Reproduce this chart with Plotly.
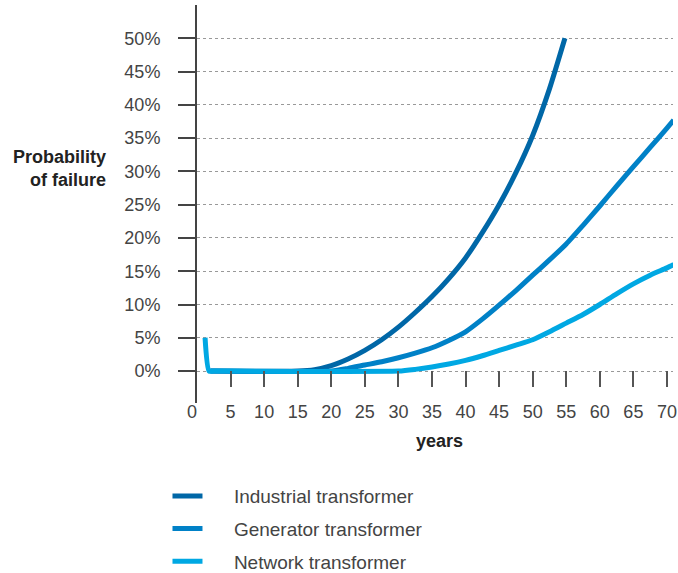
import plotly.graph_objects as go

# ---- data ----
ind_years = [2, 15, 17.5, 20, 22.5, 25, 27.5, 30, 32.5, 35, 37.5, 40, 42.5, 45, 47.5, 50, 52.5, 54.8]
ind_vals  = [0, 0, 0.2, 0.8, 1.8, 3.1, 4.7, 6.6, 8.8, 11.2, 13.9, 17.0, 20.8, 25.0, 29.8, 35.4, 42.4, 50.0]

gen_years = [2, 20, 22.5, 25, 27.5, 30, 32.5, 35, 37.5, 40, 42.5, 45, 47.5, 50, 52.5, 55, 57.5, 60, 62.5, 65, 67.5, 70, 71]
gen_vals  = [0, 0, 0.4, 0.9, 1.4, 2.0, 2.7, 3.5, 4.6, 5.9, 7.8, 9.9, 12.1, 14.4, 16.7, 19.1, 21.9, 24.8, 27.8, 30.7, 33.6, 36.5, 37.7]

net_years = [1.2, 1.8, 2.5, 30, 32.5, 35, 37.5, 40, 42.5, 45, 47.5, 50, 52.5, 55, 57.5, 60, 62.5, 65, 67.5, 70, 71]
net_vals  = [5.0, 0, 0, 0, 0.25, 0.6, 1.05, 1.6, 2.3, 3.1, 3.9, 4.7, 5.9, 7.2, 8.5, 10.0, 11.6, 13.1, 14.4, 15.5, 16.0]

series_names = ["Industrial transformer", "Generator transformer", "Network transformer"]
series_colors = ["#0067a7", "#0081c7", "#00a8e3"]

x_ticks = list(range(0, 75, 5))
x_labels = ["0\u00a0\u00a0"] + [str(v) for v in x_ticks[1:]]
y_ticks = list(range(0, 55, 5))

FONT = "Liberation Sans, Arial, Helvetica, sans-serif"
PAD = "\u00a0" * 5

fig = go.Figure()
for yrs, vals, name, col, grp in [
    (ind_years, ind_vals, series_names[0], series_colors[0], "a"),
    (gen_years, gen_vals, series_names[1], series_colors[1], "b"),
    (net_years, net_vals, series_names[2], series_colors[2], "c"),
]:
    fig.add_trace(go.Scatter(
        x=yrs, y=vals, mode="lines", name=PAD + name, legendgroup=grp,
        line=dict(color=col, width=5, shape="spline", smoothing=0.6),
        hoverinfo="skip",
    ))

fig.update_layout(
    width=678, height=573,
    margin=dict(l=197, r=5, t=5, b=170, autoexpand=False),
    paper_bgcolor="white", plot_bgcolor="white",
    font=dict(family=FONT, color="#444444", size=18),
    showlegend=True,
    legend=dict(
        x=-0.062, xanchor="left", y=-0.186, yanchor="top",
        font=dict(size=19, color="#444444", family=FONT),
        tracegroupgap=5, traceorder="grouped",
        bgcolor="rgba(0,0,0,0)", borderwidth=0,
    ),
    xaxis=dict(
        range=[0, 70.9], tickvals=x_ticks, ticktext=x_labels,
        showgrid=False, zeroline=False, showline=False,
        anchor="free", position=0.0402, automargin=False,
        ticks="inside", ticklen=16, tickwidth=1.5, tickcolor="#555555",
        ticklabelstandoff=12,
        tickfont=dict(size=18, color="#444444"),
        fixedrange=True,
    ),
    yaxis=dict(
        range=[-4.8, 55], tickvals=y_ticks, ticktext=[f"{v}%" for v in y_ticks],
        showgrid=True, gridcolor="#999999", griddash="dot", gridwidth=1,
        zeroline=False, showline=True, linecolor="#444444", linewidth=2,
        ticks="outside", ticklen=17, tickwidth=2, tickcolor="#444444",
        ticklabelstandoff=14, automargin=False,
        tickfont=dict(size=18, color="#444444"),
        fixedrange=True,
    ),
    annotations=[
        dict(text="<b>Probability<br>of failure</b>", xref="paper", yref="y",
             x=-0.187, y=30.5, xanchor="right", yanchor="middle", align="right",
             showarrow=False, font=dict(size=18, color="#222222")),
        dict(text="<b>years</b>", xref="paper", yref="paper",
             x=0.51, y=-0.0955, xanchor="center", yanchor="middle",
             showarrow=False, font=dict(size=18, color="#222222")),
    ],
)

fig.write_html("out.html", config={"displayModeBar": False},
               post_script="document.body.style.margin='0';")
